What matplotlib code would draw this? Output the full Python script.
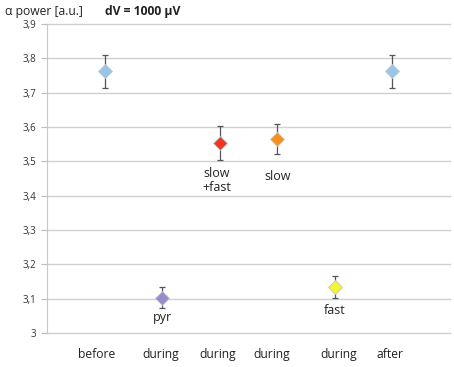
import matplotlib
matplotlib.use('Agg')
from matplotlib import pyplot as plt

# data
xpos   = [1, 2, 3, 4, 5, 6]
power  = [3.762, 3.103, 3.553, 3.565, 3.135, 3.762]
err    = [0.048, 0.030, 0.050, 0.043, 0.032, 0.048]
colors = ['#9dc3e6', '#9a8cc6', '#f2351c', '#f5901e', '#f4f436', '#9dc3e6']
xlabels = ['before', 'during', 'during', 'during', 'during', 'after']
xlabel_pos = [0.87, 1.97, 2.96, 3.91, 5.06, 5.95]
notes = [('pyr', 2.0, 3.045), ('slow\n+fast', 2.95, 3.445), ('slow', 4.0, 3.455), ('fast', 5.0, 3.065)]
yticks = [3.0, 3.1, 3.2, 3.3, 3.4, 3.5, 3.6, 3.7, 3.8, 3.9]

plt.rcParams['font.family'] = ['Open Sans', 'DejaVu Sans']
fig = plt.figure(figsize=(4.54, 3.67), dpi=100)
ax = fig.add_axes([47/454, 1-333/367, 403/454, 309/367])

for x, y, e, c in zip(xpos, power, err, colors):
    ax.errorbar(x, y, yerr=e, fmt='none', ecolor='#555555', elinewidth=0.9, capsize=2, capthick=0.9, zorder=2)
    ax.plot(x, y, 'D', ms=7, mfc=c, mec='#b8c8d8', mew=0.6, zorder=3)

for t, x, y in notes:
    ax.text(x, y, t, ha='center', va='center', fontsize=9, color='#222222', linespacing=1.1)

ax.set_xlim(0, 7)
ax.set_ylim(3.0, 3.9)
ax.set_yticks(yticks)
ax.set_yticklabels([('%g' % v).replace('.', ',') for v in yticks], fontsize=7, color='#333333')
ax.set_xticks(xlabel_pos)
ax.set_xticklabels(xlabels, fontsize=8.7, color='#222222')
ax.tick_params(axis='x', length=0, pad=11)
ax.tick_params(axis='y', length=4, color='#bbbbbb', width=0.8)
ax.grid(axis='y', color='#d0d0d0', lw=1.0, clip_on=False)
ax.set_axisbelow(True)
for s in ['top', 'right', 'bottom']:
    ax.spines[s].set_visible(False)
ax.spines['left'].set_color('#c8c8c8')

fig.text(5/454, 1-11/367, 'α power [a.u.]', fontsize=8.7, va='center', color='#222222')
fig.text(105/454, 1-11/367, 'dV = 1000 µV', fontsize=8.7, va='center', fontweight='bold', color='#222222')

fig.savefig('out.png', dpi=100)
